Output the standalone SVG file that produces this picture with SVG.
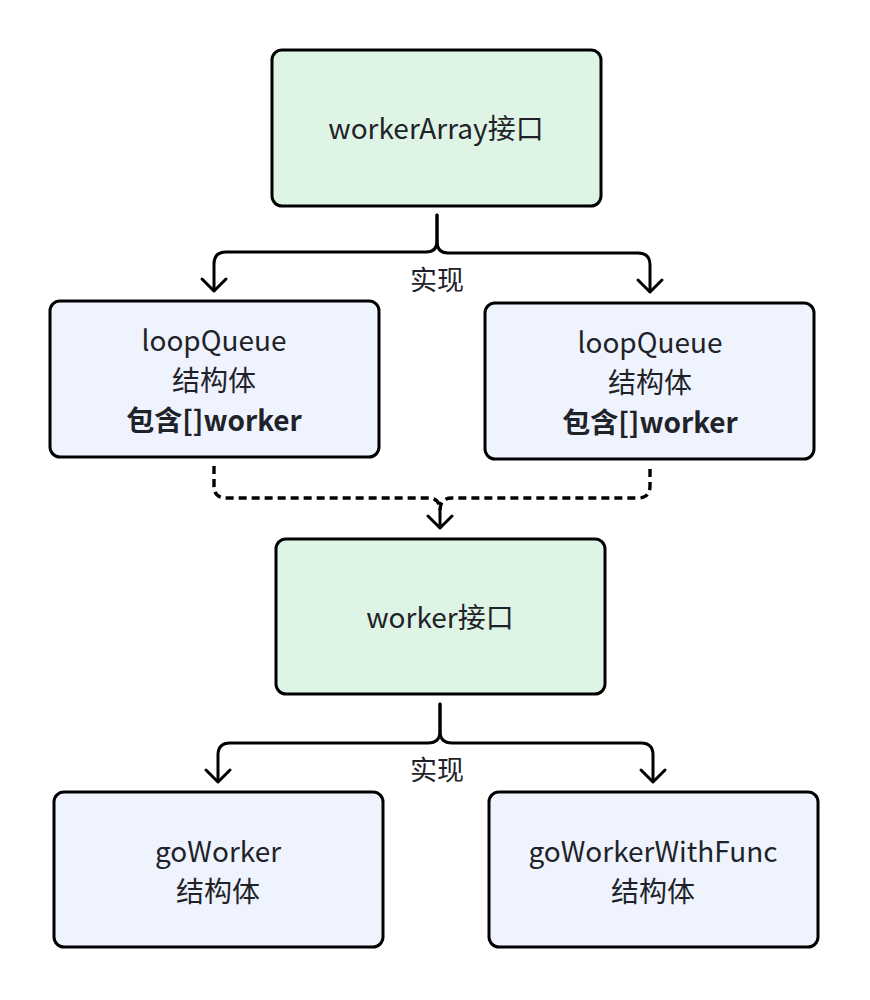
<svg xmlns="http://www.w3.org/2000/svg" width="870" height="1000" viewBox="0 0 870 1000">
<style>
.g{fill:#def5e5;stroke:#000;stroke-width:3}
.b{fill:#eef3fd;stroke:#000;stroke-width:3}
text{font-family:"Noto Sans CJK SC","Noto Sans",sans-serif;font-size:28px;fill:#1f2329;text-anchor:middle}
.bold{font-weight:bold}
.c{fill:none;stroke:#000;stroke-width:3;stroke-linecap:round;stroke-linejoin:round}
.d{stroke-width:3.4;stroke-dasharray:8 5;stroke-linecap:butt}
.lbl{font-size:27px}
</style>
<rect width="870" height="1000" fill="#fff"/>
<g id="connectors">
<path class="c" d="M437 215 V241 Q437 252 426 252 H226 Q214 252 214 264 V290"/>
<path class="c" d="M437 215 V241 Q437 253 448 253 H638 Q650 253 650 265 V291"/>
<path class="c" d="M202 279 L214 291 L226 279"/>
<path class="c" d="M638 280 L650 292 L662 280"/>
<text class="lbl" x="437" y="290">实现</text>
<path class="c d" d="M214 466 V486 Q214 498 226 498 H428 Q440 498 440 510"/>
<path class="c d" d="M650 469 V486 Q650 498 638 498 H452 Q440 498 440 510"/>
<path class="c" d="M440 510 V526 M428 516 L440 528 L452 516"/>
<path class="c" d="M440 704 V731 Q440 743 428 743 H230 Q218 743 218 755 V781"/>
<path class="c" d="M440 704 V731 Q440 743 452 743 H641 Q653 743 653 755 V781"/>
<path class="c" d="M206 770 L218 782 L230 770"/>
<path class="c" d="M641 770 L653 782 L665 770"/>
<text class="lbl" x="437" y="780">实现</text>
</g>
<g id="workerArray">
<rect class="g" x="272" y="50" width="329" height="156" rx="10"/>
<text x="436" y="139">workerArray接口</text>
</g>
<g id="loopQueue1">
<rect class="b" x="50" y="301" width="329" height="156" rx="10"/>
<text x="214" y="351">loopQueue</text>
<text x="214" y="391">结构体</text>
<text class="bold" x="214" y="431">包含[]worker</text>
</g>
<g id="loopQueue2">
<rect class="b" x="485" y="303" width="329" height="156" rx="10"/>
<text x="650" y="353">loopQueue</text>
<text x="650" y="393">结构体</text>
<text class="bold" x="650" y="433">包含[]worker</text>
</g>
<g id="worker">
<rect class="g" x="276" y="539" width="329" height="155" rx="10"/>
<text x="440" y="628">worker接口</text>
</g>
<g id="goWorker">
<rect class="b" x="54" y="792" width="329" height="155" rx="10"/>
<text x="218" y="862">goWorker</text>
<text x="218" y="902">结构体</text>
</g>
<g id="goWorkerWithFunc">
<rect class="b" x="489" y="792" width="329" height="155" rx="10"/>
<text x="653" y="862">goWorkerWithFunc</text>
<text x="653" y="902">结构体</text>
</g>
</svg>
